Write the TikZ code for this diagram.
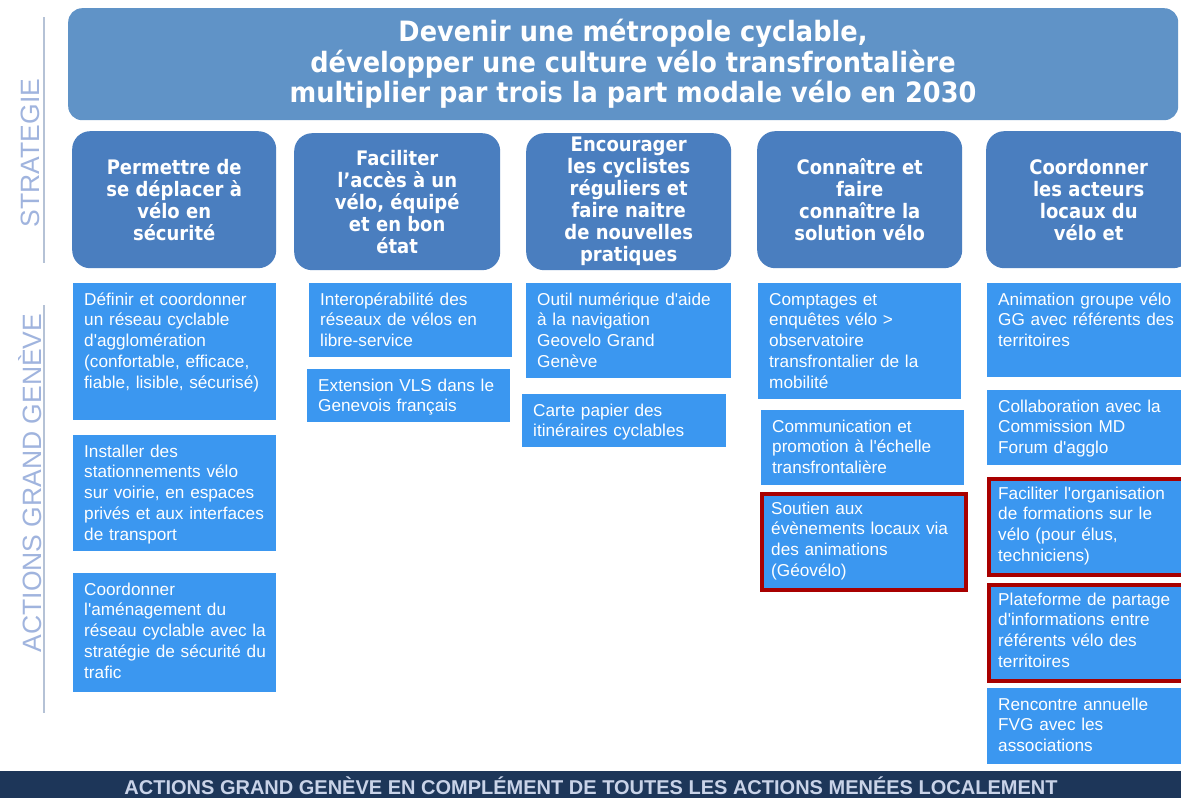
\documentclass[tikz,border=0pt]{standalone}
\usepackage{fontspec}
\setmainfont{Liberation Sans}
\newfontfamily\tahoma[FakeStretch=0.90]{DejaVu Sans}
\newfontfamily\bantext[FakeStretch=0.915]{DejaVu Sans}
\newfontfamily\barfont{Liberation Sans}
\usetikzlibrary{calc}
\definecolor{banblue}{HTML}{6093C7}
\definecolor{stratblue}{HTML}{4A7EBF}
\definecolor{actblue}{HTML}{3B97F0}
\definecolor{redline}{HTML}{A80000}
\definecolor{barnavy}{HTML}{1D3659}
\definecolor{labblue}{HTML}{A0B4DE}
\definecolor{vline}{HTML}{B5C2D6}
\definecolor{bartext}{HTML}{C9D3E8}
\newcommand\sq{\textquotesingle}
\tikzset{
  banner/.style={fill=banblue, draw=none, rounded corners=14pt, inner sep=0pt},
  strat/.style={fill=stratblue, draw=none, rounded corners=18pt, inner sep=0pt, text=white, align=center, font=\tahoma\bfseries\fontsize{20}{22}\selectfont},
  act/.style={fill=actblue, draw=none, inner sep=0pt},
  redbox/.style={draw=redline, line width=3.5pt},
  acttext/.style={text=white, align=left, inner sep=0pt, text width=205pt, font=\fontsize{17.2}{20.8}\selectfont},
  lab/.style={text=labblue, inner sep=0pt, font=\fontsize{26.5}{28}\selectfont},
  sideline/.style={draw=vline, line width=1.5pt},
  bar/.style={fill=barnavy, draw=none, inner sep=0pt}
}
\newcommand\actbox[7][]{%
  \node[act,#1,minimum width=#5pt,minimum height=#6pt,anchor=north west] (#2) at (#3,#4) {};
  \node[acttext,anchor=base west] (#2t) at ($(#2.north west)+(11,22)$) {#7};
}
\begin{document}
\begin{tikzpicture}[x=1pt,y=-1pt]
\useasboundingbox (0,0) rectangle (1181,798);
\clip (0,0) rectangle (1181,798);
\fill[white] (0,0) rectangle (1181,798);

% side labels
\node[lab, rotate=90] (lstrat) at (30,153) {STRATEGIE};
\node[lab, rotate=90] (lact) at (30,483) {ACTIONS GRAND GENÈVE};
\coordinate (l1a) at (44,17); \coordinate (l1b) at (44,263);
\coordinate (l2a) at (44,305); \coordinate (l2b) at (44,713);
\draw[sideline] (l1a) -- (l1b);
\draw[sideline] (l2a) -- (l2b);

% banner
\node[banner, minimum width=1110pt, minimum height=112pt, anchor=north west] (ban) at (68,8) {};
\node[text=white, align=center, inner sep=0pt, font=\bantext\bfseries\fontsize{28}{30.5}\selectfont] (bant) at (633,64)
  {Devenir une métropole cyclable,\\développer une culture vélo transfrontalière\\multiplier par trois la part modale vélo en 2030};

% strategy boxes
\node[strat, minimum width=204pt, minimum height=137pt, anchor=north west] (s1) at (72,131) {Permettre de\\se déplacer à\\vélo en\\sécurité};
\node[strat, minimum width=206pt, minimum height=137pt, anchor=north west] (s2) at (294,133) {Faciliter\\l’accès à un\\vélo, équipé\\et en bon\\état};
\node[strat, minimum width=205pt, minimum height=137pt, anchor=north west] (s3) at (526,133) {Encourager\\les cyclistes\\réguliers et\\faire naitre\\de nouvelles\\pratiques};
\node[strat, minimum width=205pt, minimum height=137pt, anchor=north west] (s4) at (757,131) {Connaître et\\faire\\connaître la\\solution vélo};
\node[strat, minimum width=205pt, minimum height=137pt, anchor=north west] (s5) at (986,131) {Coordonner\\les acteurs\\locaux du\\vélo et};

% column 1
\actbox{a11}{73}{283}{203}{137}{Définir et coordonner\\un réseau cyclable\\d\sq agglomération\\(confortable, efficace,\\fiable, lisible, sécurisé)}
\actbox{a12}{73}{435}{203}{116}{Installer des\\stationnements vélo\\sur voirie, en espaces\\privés et aux interfaces\\de transport}
\actbox{a13}{73}{573}{203}{119}{Coordonner\\l\sq aménagement du\\réseau cyclable avec la\\stratégie de sécurité du\\trafic}
% column 2
\actbox{a21}{309}{283}{203}{74}{Interopérabilité des\\réseaux de vélos en\\libre-service}
\actbox{a22}{307}{369}{203}{53}{Extension VLS dans le\\Genevois français}
% column 3
\actbox{a31}{526}{283}{205}{95}{Outil numérique d\sq aide\\à la navigation\\Geovelo Grand\\Genève}
\actbox{a32}{522}{394}{204}{53}{Carte papier des\\itinéraires cyclables}
% column 4
\actbox{a41}{758}{283}{203}{116}{Comptages et\\enquêtes vélo >\\observatoire\\transfrontalier de la\\mobilité}
\actbox{a42}{761}{410}{203}{75}{Communication et\\promotion à l\sq échelle\\transfrontalière}
\actbox[redbox]{a43}{760}{492}{204}{96}{Soutien aux\\évènements locaux via\\des animations\\(Géovélo)}
% column 5
\actbox{a51}{987}{283}{210}{94}{Animation groupe vélo\\GG avec référents des\\territoires}
\actbox{a52}{987}{390}{210}{75}{Collaboration avec la\\Commission MD\\Forum d\sq agglo}
\actbox[redbox]{a53}{987}{477}{210}{96}{Faciliter l\sq organisation\\de formations sur le\\vélo (pour élus,\\techniciens)}
\actbox[redbox]{a54}{987}{583}{210}{96}{Plateforme de partage\\d\sq informations entre\\référents vélo des\\territoires}
\actbox{a55}{987}{688}{210}{76}{Rencontre annuelle\\FVG avec les\\associations}

% bottom bar
\node[bar, minimum width=1181pt, minimum height=32pt, anchor=north west] (bar) at (0,771) {};
\node[text=bartext, inner sep=0pt, font=\barfont\bfseries\fontsize{20}{22}\selectfont] (bart) at (591,786) {ACTIONS GRAND GENÈVE EN COMPLÉMENT DE TOUTES LES ACTIONS MENÉES LOCALEMENT};
\end{tikzpicture}
\end{document}
